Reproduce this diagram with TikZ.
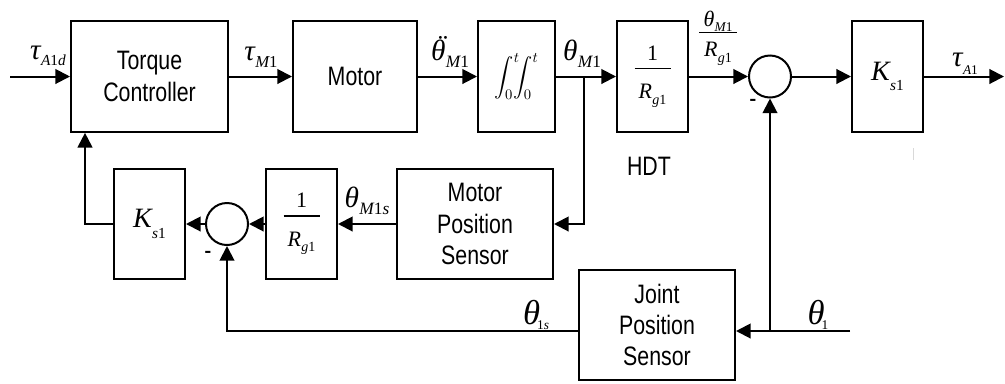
\documentclass[tikz,border=0pt]{standalone}
\usepackage{exscale}
\usepackage{fontspec}
\setmainfont{Liberation Sans}[FakeStretch=0.8]
\newfontfamily\tms{Liberation Serif}
\usetikzlibrary{arrows.meta}
% symbol with subscript: #1 size, #2 symbol, #3 subscript, #4 sub size, #5 drop
\newcommand\syx[5]{{\fontsize{#1}{#1}\selectfont\tms\itshape #2}\kern0.3pt\raisebox{-#5}{\fontsize{#4}{#4}\selectfont\tms #3}}
\newcommand\thdd{\makebox[0pt][l]{\kern3.8pt\raisebox{4pt}{¨}}θ}
% stacked fraction: #1 num, #2 den, #3 gap above bar, #4 gap below bar, #5 bar width
\newcommand\frc[5]{\vbox{\offinterlineskip\halign{\hfil##\hfil\cr#1\cr\noalign{\kern#3}\rule{#5}{1pt}\cr\noalign{\kern#4}#2\cr}}}
\newcommand\rgo[2]{\syx{#1}{R}{{\itshape g}1}{#2}{4pt}}
\begin{document}
\begin{tikzpicture}[x=0.75pt,y=-0.75pt,
  blk/.style={draw, line width=1.5pt, minimum height=83pt, inner sep=0pt,
    font=\fontsize{20pt}{23.5pt}\selectfont, align=center},
  sm/.style={draw, circle, line width=1.5pt, minimum size=31.5pt, inner sep=0pt},
  arr/.style={line width=1.5pt, -{Triangle[length=11pt,width=11pt]}},
  lab/.style={inner sep=0pt},
  txt/.style={inner sep=0pt, font=\fontsize{20pt}{20pt}\selectfont}]
\useasboundingbox (0,0) rectangle (1005,383);
% top row
\node[blk, minimum width=117.75pt] (tc) at (149.5,76.5) {Torque\\Controller};
\node[blk, minimum width=93pt] (mot) at (355,76.5) {Motor};
\node[blk, minimum width=57.75pt] (int) at (516.5,76.5) {\fontsize{15pt}{15pt}\selectfont$\displaystyle\int_0^t\!\!\!\int_0^t$};
\node[blk, minimum width=53.25pt] (rg) at (652.5,76.5) {\frc{{\fontsize{16.5pt}{16.5pt}\selectfont\tms 1}}{\rgo{16.5pt}{10.5pt}}{5.5pt}{11.5pt}{27pt}};
\node[sm] (s1) at (770,76.5) {};
\node[blk, minimum width=53.25pt] (ks) at (887.5,76.5) {\syx{21pt}{K}{{\itshape s}1}{11.5pt}{8pt}};
% bottom row
\node[blk, minimum width=53.25pt, minimum height=82.5pt] (ks2) at (149.5,224) {\syx{21pt}{K}{{\itshape s}1}{11.5pt}{8pt}};
\node[sm] (s2) at (227,224) {};
\node[blk, minimum width=53.25pt] (rg2) at (301.5,224) {\frc{{\fontsize{16.5pt}{16.5pt}\selectfont\tms 1}}{\rgo{16.5pt}{10.5pt}}{5.5pt}{11.5pt}{27pt}};
\node[blk, minimum width=117pt, minimum height=82.5pt] (mps) at (475,224) {Motor\\Position\\Sensor};
\node[blk, minimum width=117pt, minimum height=82.5pt] (jps) at (657,325) {Joint\\Position\\Sensor};
% labels
\node[lab] (l1) at (48,56) {\syx{22pt}{τ}{{\itshape A}1{\itshape d}}{11.5pt}{5pt}};
\node[lab] (l2) at (261,57) {\syx{22pt}{τ}{{\itshape M}1}{12.5pt}{5pt}};
\node[lab] (l3) at (450,52) {\syx{22pt}{\thdd}{{\itshape M}1}{13pt}{5pt}};
\node[lab] (l4) at (582,54) {\syx{22pt}{θ}{{\itshape M}1}{13pt}{5pt}};
\node[lab] (l5) at (718,38) {\frc{\syx{16.5pt}{θ}{{\itshape M}1}{10pt}{3.5pt}}{\rgo{16.5pt}{10.5pt}}{0.5pt}{7pt}{28pt}};
\node[lab] (l6) at (965,64) {\syx{22pt}{τ}{{\itshape A}1}{10pt}{6pt}};
\node[lab] (l7) at (367,201) {\syx{22pt}{θ}{{\itshape M}1{\itshape s}}{13pt}{5pt}};
\node[lab] (l8) at (536,315) {\syx{26pt}{θ}{\kern-2.5pt 1{\itshape s}}{10pt}{4pt}};
\node[lab] (l9) at (818,315) {\syx{26pt}{θ}{\kern-2.5pt 1}{10pt}{4pt}};
\node[txt] (hdt) at (649,166) {HDT};
\node[txt] (m1) at (753,103) {-};
\node[txt] (m2) at (208,255) {-};
% connectors
\coordinate (in) at (10,76.5);
\coordinate (out) at (1004,76.5);
\coordinate (b1) at (584,76.5);
\coordinate (t1) at (850,331);
\coordinate (b2) at (t1 -| s1);
\draw[arr] (in) -- (tc.west);
\draw[arr] (tc.east) -- (mot.west);
\draw[arr] (mot.east) -- (int.west);
\draw[arr] (int.east) -- (rg.west);
\draw[arr] (rg.east) -- (s1.west);
\draw[arr] (s1.east) -- (ks.west);
\draw[arr] (ks.east) -- (out);
\draw[arr] (b1) |- (mps.east);
\draw[arr] (mps.west) -- (rg2.east);
\draw[arr] (rg2.west) -- (s2.east);
\draw[arr] (s2.west) -- (ks2.east);
\draw[arr] (ks2.west) -| ([xshift=11.25pt]tc.south west);
\draw[arr] (t1) -- (t1 -| jps.east);
\draw[arr] (b2) -- (s1.south);
\draw[arr] (t1 -| jps.west) -| (s2.south);
\draw[black!15, line width=0.75pt] (913,148) -- (913,160);
\end{tikzpicture}
\end{document}
